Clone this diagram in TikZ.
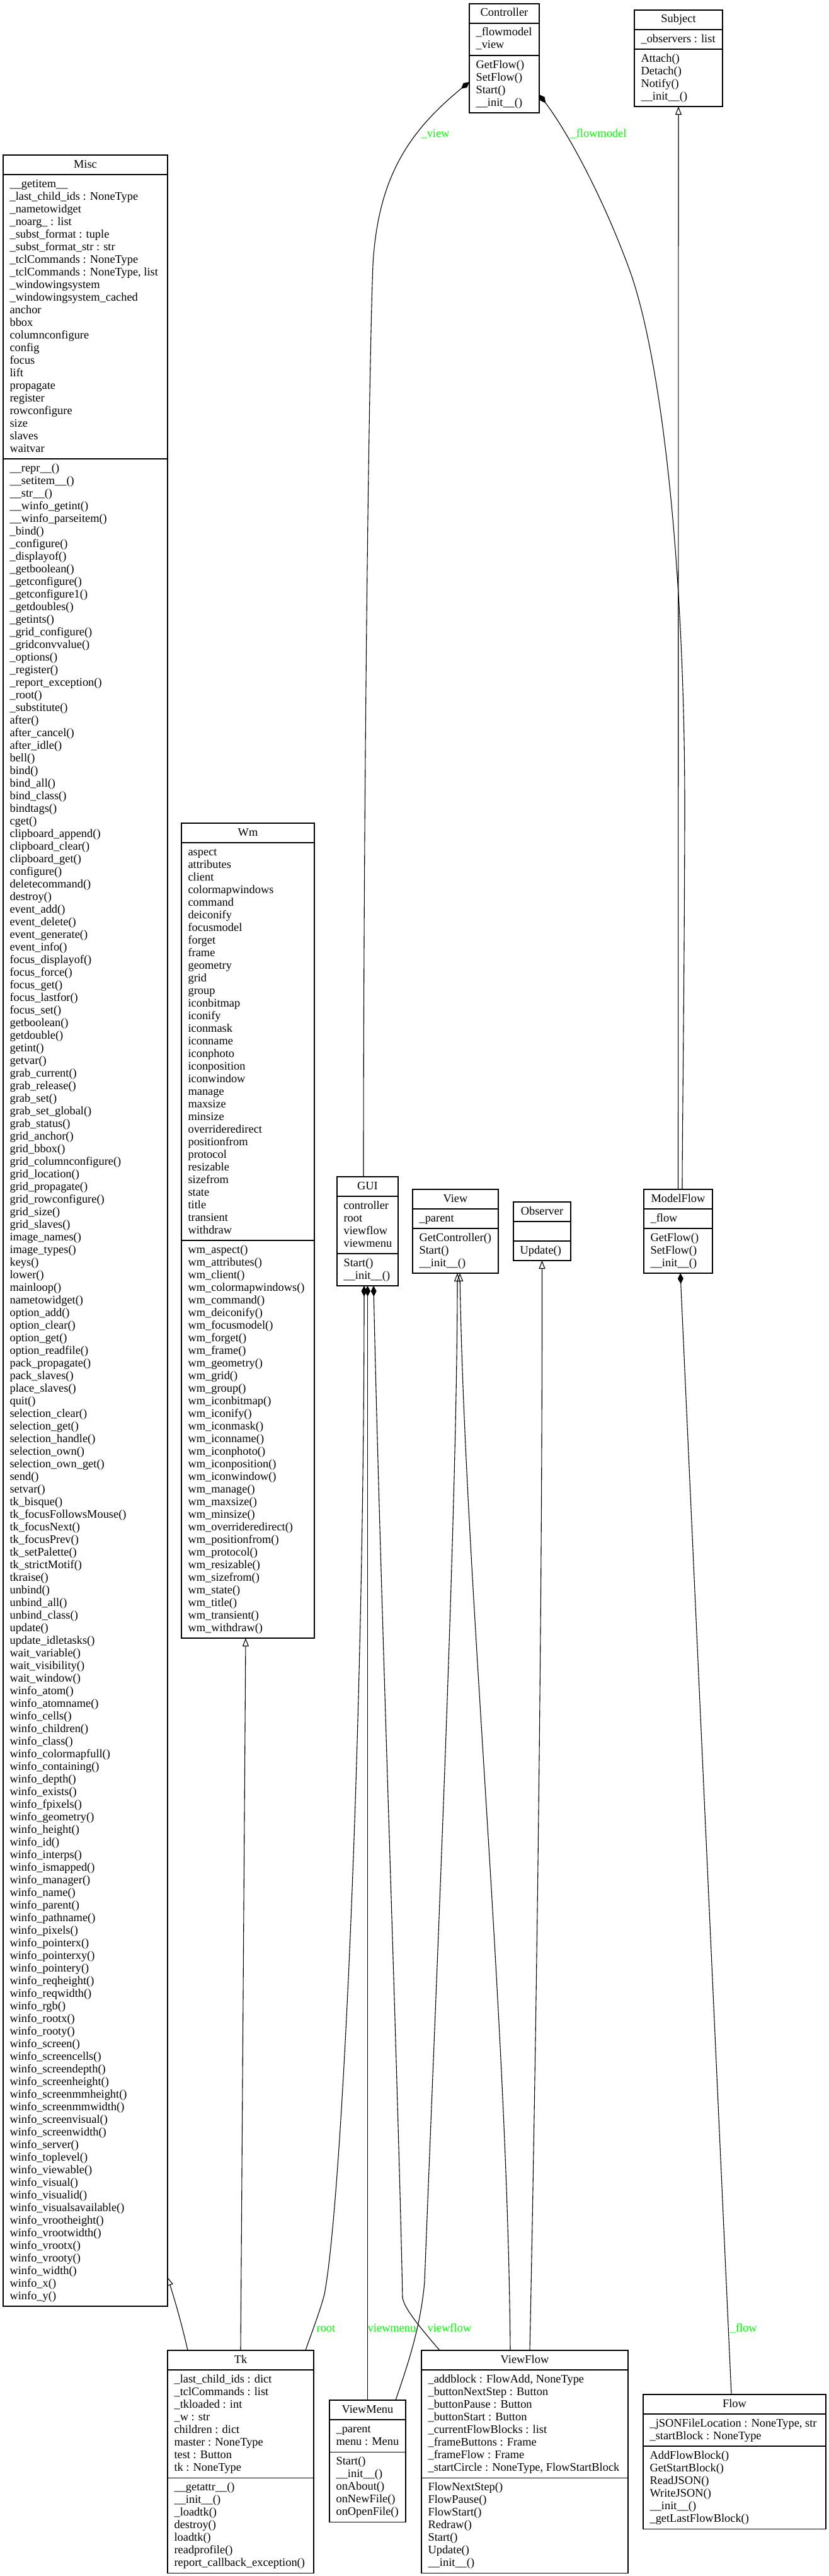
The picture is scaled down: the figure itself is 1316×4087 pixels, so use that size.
\documentclass[tikz,border=0pt]{standalone}
\usepackage{fontspec}
\setmainfont{Liberation Serif}
\usepackage{tikz}
\usetikzlibrary{calc,arrows.meta,positioning}
\definecolor{labelgreen}{RGB}{0,255,0}
\newcommand{\umlfont}{\fontsize{18.4}{20}\selectfont}

% #1 name, #2 x, #3 y, #4 width, #5 title, #6 attributes, #7 methods
\newcommand{\umlclass}[7]{%
	\node[classname] (#1-name) at ({#2+#4/2},{#3+20}) {#5};
	\foreach \t [count=\i] in {#6} {\node[member] (#1-a\i) at ({#2+10},{#3+31+20*\i}) {\t}; \xdef\nattr{\i}}
	\foreach \t [count=\i] in {#7} {\node[member] (#1-m\i) at ({#2+10},{#3+42+20*\nattr+20*\i}) {\t}; \xdef\nmeth{\i}}
	\pgfmathsetmacro{\boxh}{53+20*\nattr+20*\nmeth}
	\node[classbox, minimum width=#4, minimum height=\boxh] (#1) at (#2,#3) {};
	\draw[sepline] ($(#1.north west)+(0,31)$) -- ($(#1.north east)+(0,31)$);
	\draw[sepline] ($(#1.north west)+(0,{42+20*\nattr})$) -- ($(#1.north east)+(0,{42+20*\nattr})$);
}

\begin{document}
\begin{tikzpicture}[x=1pt, y=-1pt, line width=1.1pt,
	classbox/.style={draw, inner sep=0pt, outer sep=0pt, anchor=north west},
	sepline/.style={draw},
	classname/.style={anchor=base, inner sep=0pt, font=\umlfont},
	member/.style={anchor=base west, inner sep=0pt, font=\umlfont},
	edgelabel/.style={anchor=base west, inner sep=0pt, font=\umlfont, text=labelgreen},
	compose/.style={{Diamond[length=17pt,width=9pt]}-},
	inherit/.style={-{Triangle[open,length=13pt,width=10pt]}}]
	\useasboundingbox (0,0) rectangle (1316,4087);

	\umlclass{Controller}{745}{6}{111}{Controller}{\_flowmodel,\_view}{GetFlow(),SetFlow(),Start(),\_\_init\_\_()}
	\umlclass{Subject}{1007}{16}{140}{Subject}{\_observers : list}{Attach(),Detach(),Notify(),\_\_init\_\_()}
	\umlclass{Misc}{5}{246}{261}{Misc}{\_\_getitem\_\_,\_last\_child\_ids : NoneType,\_nametowidget,\_noarg\_ : list,
		\_subst\_format : tuple,\_subst\_format\_str : str,\_tclCommands : NoneType,{\_tclCommands : NoneType, list},
		\_windowingsystem,\_windowingsystem\_cached,anchor,bbox,columnconfigure,config,focus,lift,propagate,
		register,rowconfigure,size,slaves,waitvar}{\_\_repr\_\_(),\_\_setitem\_\_(),\_\_str\_\_(),\_\_winfo\_getint(),
		\_\_winfo\_parseitem(),\_bind(),\_configure(),\_displayof(),\_getboolean(),\_getconfigure(),\_getconfigure1(),
		\_getdoubles(),\_getints(),\_grid\_configure(),\_gridconvvalue(),\_options(),\_register(),\_report\_exception(),
		\_root(),\_substitute(),after(),after\_cancel(),after\_idle(),bell(),bind(),bind\_all(),bind\_class(),bindtags(),
		cget(),clipboard\_append(),clipboard\_clear(),clipboard\_get(),configure(),deletecommand(),destroy(),
		event\_add(),event\_delete(),event\_generate(),event\_info(),focus\_displayof(),focus\_force(),focus\_get(),
		focus\_lastfor(),focus\_set(),getboolean(),getdouble(),getint(),getvar(),grab\_current(),grab\_release(),
		grab\_set(),grab\_set\_global(),grab\_status(),grid\_anchor(),grid\_bbox(),grid\_columnconfigure(),
		grid\_location(),grid\_propagate(),grid\_rowconfigure(),grid\_size(),grid\_slaves(),image\_names(),
		image\_types(),keys(),lower(),mainloop(),nametowidget(),option\_add(),option\_clear(),option\_get(),
		option\_readfile(),pack\_propagate(),pack\_slaves(),place\_slaves(),quit(),selection\_clear(),
		selection\_get(),selection\_handle(),selection\_own(),selection\_own\_get(),send(),setvar(),tk\_bisque(),
		tk\_focusFollowsMouse(),tk\_focusNext(),tk\_focusPrev(),tk\_setPalette(),tk\_strictMotif(),tkraise(),
		unbind(),unbind\_all(),unbind\_class(),update(),update\_idletasks(),wait\_variable(),wait\_visibility(),
		wait\_window(),winfo\_atom(),winfo\_atomname(),winfo\_cells(),winfo\_children(),winfo\_class(),
		winfo\_colormapfull(),winfo\_containing(),winfo\_depth(),winfo\_exists(),winfo\_fpixels(),winfo\_geometry(),
		winfo\_height(),winfo\_id(),winfo\_interps(),winfo\_ismapped(),winfo\_manager(),winfo\_name(),winfo\_parent(),
		winfo\_pathname(),winfo\_pixels(),winfo\_pointerx(),winfo\_pointerxy(),winfo\_pointery(),winfo\_reqheight(),
		winfo\_reqwidth(),winfo\_rgb(),winfo\_rootx(),winfo\_rooty(),winfo\_screen(),winfo\_screencells(),
		winfo\_screendepth(),winfo\_screenheight(),winfo\_screenmmheight(),winfo\_screenmmwidth(),
		winfo\_screenvisual(),winfo\_screenwidth(),winfo\_server(),winfo\_toplevel(),winfo\_viewable(),
		winfo\_visual(),winfo\_visualid(),winfo\_visualsavailable(),winfo\_vrootheight(),winfo\_vrootwidth(),
		winfo\_vrootx(),winfo\_vrooty(),winfo\_width(),winfo\_x(),winfo\_y()}
	\umlclass{Wm}{288}{1306}{211}{Wm}{aspect,attributes,client,colormapwindows,command,deiconify,focusmodel,forget,
		frame,geometry,grid,group,iconbitmap,iconify,iconmask,iconname,iconphoto,iconposition,iconwindow,manage,
		maxsize,minsize,overrideredirect,positionfrom,protocol,resizable,sizefrom,state,title,transient,withdraw}{wm\_aspect(),
		wm\_attributes(),wm\_client(),wm\_colormapwindows(),wm\_command(),wm\_deiconify(),wm\_focusmodel(),wm\_forget(),
		wm\_frame(),wm\_geometry(),wm\_grid(),wm\_group(),wm\_iconbitmap(),wm\_iconify(),wm\_iconmask(),wm\_iconname(),
		wm\_iconphoto(),wm\_iconposition(),wm\_iconwindow(),wm\_manage(),wm\_maxsize(),wm\_minsize(),
		wm\_overrideredirect(),wm\_positionfrom(),wm\_protocol(),wm\_resizable(),wm\_sizefrom(),wm\_state(),
		wm\_title(),wm\_transient(),wm\_withdraw()}
	\umlclass{GUI}{535}{1867}{97}{GUI}{controller,root,viewflow,viewmenu}{Start(),\_\_init\_\_()}
	\umlclass{View}{655}{1887}{136}{View}{\_parent}{GetController(),Start(),\_\_init\_\_()}
	\umlclass{Observer}{815}{1907}{91}{Observer}{\mbox{}}{Update()}
	\umlclass{ModelFlow}{1022}{1887}{109}{ModelFlow}{\_flow}{GetFlow(),SetFlow(),\_\_init\_\_()}
	\umlclass{Tk}{266}{3729}{232}{Tk}{\_last\_child\_ids : dict,\_tclCommands : list,\_tkloaded : int,\_w : str,
		children : dict,master : NoneType,test : Button,tk : NoneType}{\_\_getattr\_\_(),\_\_init\_\_(),\_loadtk(),
		destroy(),loadtk(),readprofile(),report\_callback\_exception()}
	\umlclass{ViewMenu}{523}{3808}{121}{ViewMenu}{\_parent,menu : Menu}{Start(),\_\_init\_\_(),onAbout(),onNewFile(),onOpenFile()}
	\umlclass{ViewFlow}{669}{3729}{328}{ViewFlow}{{\_addblock : FlowAdd, NoneType},\_buttonNextStep : Button,
		\_buttonPause : Button,\_buttonStart : Button,\_currentFlowBlocks : list,\_frameButtons : Frame,
		\_frameFlow : Frame,{\_startCircle : NoneType, FlowStartBlock}}{FlowNextStep(),FlowPause(),FlowStart(),
		Redraw(),Start(),Update(),\_\_init\_\_()}
	\umlclass{Flow}{1021}{3799}{290}{Flow}{{\_jSONFileLocation : NoneType, str},\_startBlock : NoneType}{AddFlowBlock(),
		GetStartBlock(),ReadJSON(),WriteJSON(),\_\_init\_\_(),\_getLastFlowBlock()}

	% compositions
	\draw[compose] ($(Controller.north west)+(0,124)$) .. controls (650,208) and (600,280) .. (592,420)
		.. controls (585,600) and (577,1300) .. ($(GUI.north west)+(42,0)$);
	\draw[compose] ($(Controller.north east)+(0,144)$) .. controls (905,215) and (960,320) .. (1000,430)
		.. controls (1050,570) and (1088,900) .. (1087,1300) .. controls (1086,1600) and (1083,1800) .. ($(ModelFlow.north)+(6.5,0)$);
	\draw[compose] ($(GUI.south)+(-5.5,0)$) .. controls (578,2700) and (545,3480) .. (515,3640)
		.. controls (507,3670) and (495,3700) .. ($(Tk.north west)+(219,0)$);
	\draw[compose] (GUI.south) -- (ViewMenu.north);
	\draw[compose] ($(GUI.south)+(9.5,0)$) .. controls (603,2500) and (632,3300) .. (639,3645)
		.. controls (641,3660) and (660,3685) .. ($(ViewFlow.north west)+(29,0)$);
	\draw[compose] ($(ModelFlow.south)+(3.5,0)$) -- ($(Flow.north)+(-5,0)$);

	% inheritance
	\draw[inherit] (ModelFlow.north) -- (Subject.south);
	\draw[inherit] (Tk.north) -- ($(Wm.south)+(-3.5,0)$);
	\draw[inherit] ($(Tk.north west)+(32,0)$) .. controls (287,3680) and (273,3635) .. ($(Misc.south east)+(0,-46)$);
	\draw[inherit] ($(ViewMenu.north east)+(-16,0)$) .. controls (648,3750) and (668,3690) .. (674,3620)
		.. controls (690,3200) and (726,2400) .. ($(View.south)+(3,0)$);
	\draw[inherit] ($(ViewFlow.north west)+(141,0)$) .. controls (806,3200) and (738,2500) .. ($(View.south)+(7,0)$);
	\draw[inherit] ($(ViewFlow.north west)+(172,0)$) .. controls (850,3300) and (861,2600) .. (Observer.south);

	\node[edgelabel] (lbl-view) at (668,217) {\_view};
	\node[edgelabel] (lbl-flowmodel) at (905,217) {\_flowmodel};
	\node[edgelabel] (lbl-root) at (502,3699) {root};
	\node[edgelabel] (lbl-viewmenu) at (583,3699) {viewmenu};
	\node[edgelabel] (lbl-viewflow) at (678,3699) {viewflow};
	\node[edgelabel] (lbl-flow) at (1158,3699) {\_flow};
\end{tikzpicture}
\end{document}
